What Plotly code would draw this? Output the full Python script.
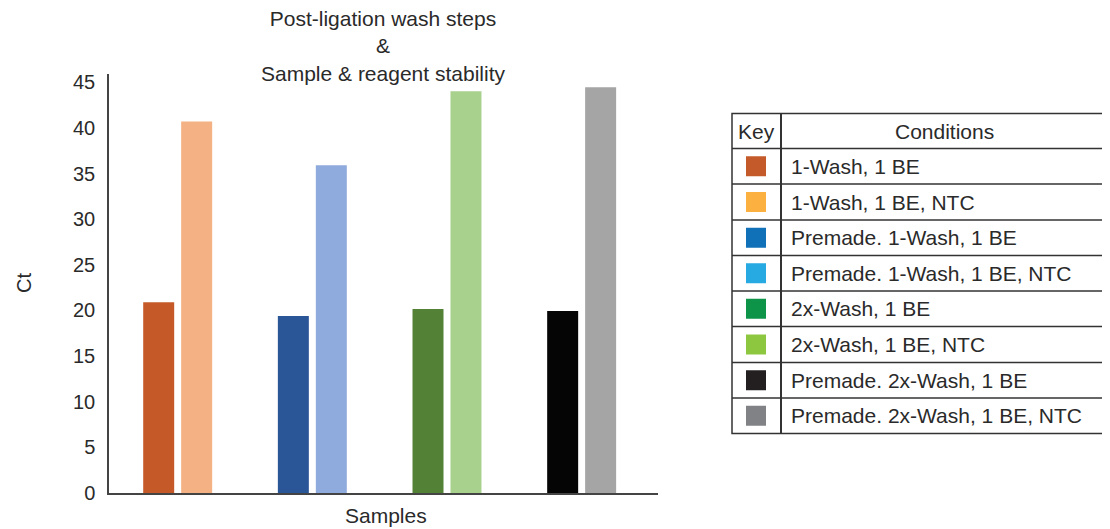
import plotly.graph_objects as go

# ---------------- data ----------------
groups = ["1-Wash", "Premade 1-Wash", "2x-Wash", "Premade 2x-Wash"]
sample_ct = [20.9, 19.4, 20.15, 19.95]
ntc_ct = [40.7, 35.9, 44.0, 44.45]
sample_colors = ["#C55A28", "#2A5597", "#538135", "#050505"]
ntc_colors = ["#F4B183", "#8FAADC", "#A9D18E", "#A5A5A5"]

y_ticks = [0, 5, 10, 15, 20, 25, 30, 35, 40, 45]

key_labels = [
    "1-Wash, 1 BE",
    "1-Wash, 1 BE, NTC",
    "Premade. 1-Wash, 1 BE",
    "Premade. 1-Wash, 1 BE, NTC",
    "2x-Wash, 1 BE",
    "2x-Wash, 1 BE, NTC",
    "Premade. 2x-Wash, 1 BE",
    "Premade. 2x-Wash, 1 BE, NTC",
]
key_colors = ["#C45A29", "#FBB040", "#1070B8", "#27AAE1",
              "#0E9448", "#8DC63F", "#231F20", "#808285"]

title_text = "Post-ligation wash steps<br>&<br>Sample & reagent stability"

# ---------------- layout geometry ----------------
OFF = 8  # page body margin in the browser
W_FIG, H_FIG = 1110 - OFF, 529 - OFF
L, R, T, B = 109 - OFF, 452, 74 - OFF, 36
PW = W_FIG - L - R
PH = H_FIG - T - B
FONT = "Liberation Sans, Arial, Helvetica, sans-serif"
TXT = "#2a2a2a"


def fx(px):
    return (px - OFF - L) / PW


def fy(py):
    return (H_FIG - B - (py - OFF)) / PH


fig = go.Figure()
fig.add_trace(go.Bar(x=list(range(len(groups))), y=sample_ct,
                     marker=dict(color=sample_colors, line=dict(width=0)),
                     name="Sample", showlegend=False))
fig.add_trace(go.Bar(x=list(range(len(groups))), y=ntc_ct,
                     marker=dict(color=ntc_colors, line=dict(width=0)),
                     name="NTC", showlegend=False))

shapes = []
annotations = []

# table
tx0, tx1, tdiv = 732, 1108, 781
row_lines = [113.5, 148.5, 184, 220, 255.5, 291, 326.5, 362.5, 398, 433.5]
lc = "#333333"
shapes.append(dict(type="rect", xref="paper", yref="paper",
                   x0=fx(tx0), x1=fx(tx1), y0=fy(row_lines[-1]), y1=fy(row_lines[0]),
                   line=dict(color=lc, width=1.5)))
shapes.append(dict(type="line", xref="paper", yref="paper",
                   x0=fx(tdiv), x1=fx(tdiv), y0=fy(row_lines[-1]), y1=fy(row_lines[0]),
                   line=dict(color=lc, width=2)))
for yl in row_lines[1:-1]:
    shapes.append(dict(type="line", xref="paper", yref="paper",
                       x0=fx(tx0), x1=fx(tx1), y0=fy(yl), y1=fy(yl),
                       line=dict(color=lc, width=1.5)))

# header
hy = (row_lines[0] + row_lines[1]) / 2
annotations.append(dict(text="Key", xref="paper", yref="paper", x=fx((tx0 + tdiv) / 2), y=fy(hy),
                        showarrow=False, xanchor="center", yanchor="middle",
                        font=dict(size=21, color=TXT, family=FONT)))
annotations.append(dict(text="Conditions", xref="paper", yref="paper", x=fx((tdiv + tx1) / 2), y=fy(hy),
                        showarrow=False, xanchor="center", yanchor="middle",
                        font=dict(size=21, color=TXT, family=FONT)))

for i, (lab, col) in enumerate(zip(key_labels, key_colors)):
    ya, yb = row_lines[i + 1], row_lines[i + 2]
    cy = (ya + yb) / 2
    shapes.append(dict(type="rect", xref="paper", yref="paper",
                       x0=fx(746), x1=fx(766), y0=fy(cy + 10), y1=fy(cy - 10),
                       fillcolor=col, line=dict(width=0)))
    annotations.append(dict(text=lab, xref="paper", yref="paper", x=fx(789), y=fy(cy),
                            showarrow=False, xanchor="left", yanchor="middle",
                            font=dict(size=21, color=TXT, family=FONT)))

# title
annotations.append(dict(text=title_text, xref="paper", yref="paper", x=fx(383), y=fy(46),
                        showarrow=False, xanchor="center", yanchor="middle",
                        font=dict(size=21, color=TXT, family=FONT)))
# axis titles
annotations.append(dict(text="Samples", xref="paper", yref="paper", x=fx(386), y=fy(516),
                        showarrow=False, xanchor="center", yanchor="middle",
                        font=dict(size=21, color=TXT, family=FONT)))
annotations.append(dict(text="Ct", xref="paper", yref="paper", x=fx(24), y=fy(283),
                        showarrow=False, xanchor="center", yanchor="middle", textangle=-90,
                        font=dict(size=20, color=TXT, family=FONT)))

fig.update_layout(
    width=W_FIG, height=H_FIG,
    margin=dict(l=L, r=R, t=T, b=B, pad=0),
    paper_bgcolor="white", plot_bgcolor="white",
    barmode="group", bargap=0.436, bargroupgap=0.184,
    shapes=shapes, annotations=annotations,
    font=dict(family=FONT, color=TXT),
    xaxis=dict(range=[-0.51, 3.567], showticklabels=False, ticks="", showgrid=False,
               zeroline=False, showline=True, linecolor="#444444", linewidth=1.5,
               fixedrange=True),
    yaxis=dict(range=[0, 45.9], tickvals=y_ticks, ticktext=[str(v) for v in y_ticks],
               ticks="outside", ticklen=8, tickcolor="rgba(0,0,0,0)",
               tickfont=dict(size=20, color=TXT, family=FONT),
               showgrid=False, zeroline=False, showline=True, linecolor="#444444",
               linewidth=1.5, fixedrange=True),
)

fig.write_html("out.html")
